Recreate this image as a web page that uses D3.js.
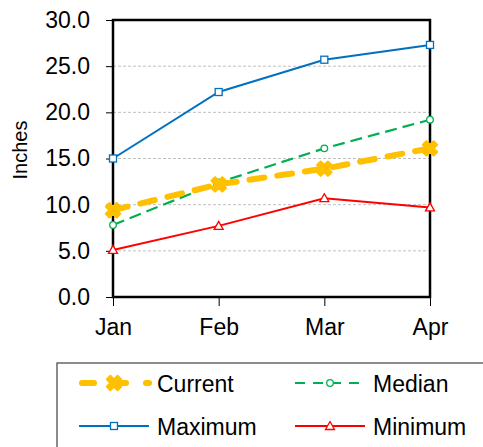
<html>
<head>
<style>
  body { margin: 0; background: #fff; }
  text { font-family: Arial, "Liberation Sans", sans-serif; fill: #000; }
</style>
</head>
<body>
<svg width="483" height="447"></svg>
<script src="https://d3js.org/d3.v7.min.js"></script>
<script>
var months = ['Jan', 'Feb', 'Mar', 'Apr'];
var yTicks = [0, 5, 10, 15, 20, 25, 30];
var current = [9.4, 12.2, 13.9, 16.1];
var median = [7.8, 12.4, 16.1, 19.2];
var maximum = [15.0, 22.2, 25.7, 27.3];
var minimum = [5.1, 7.7, 10.7, 9.7];

var svg = d3.select('svg');
var plotLeft = 113, plotRight = 430, plotTop = 20, plotBottom = 297;

var x = d3.scalePoint().domain(months).range([plotLeft, plotRight]);
var y = d3.scaleLinear().domain([0, 30]).range([plotBottom, plotTop]);

// gridlines
svg.selectAll('.grid')
  .data(yTicks.filter(function(d){ return d > 0 && d < 30; }))
  .enter().append('line')
  .attr('x1', plotLeft).attr('x2', plotRight)
  .attr('y1', function(d){ return y(d); })
  .attr('y2', function(d){ return y(d); })
  .attr('stroke', '#c0c0c0').attr('stroke-width', 1)
  .attr('stroke-dasharray', '3,2');

// y axis
var yAxis = svg.append('g')
  .attr('transform', 'translate(' + plotLeft + ',0)')
  .call(d3.axisLeft(y).tickValues(yTicks).tickFormat(d3.format('.1f')).tickSize(7).tickPadding(16));
yAxis.select('.domain').remove();
yAxis.selectAll('line').attr('stroke', '#000').attr('stroke-width', 1);
yAxis.selectAll('text').attr('font-size', '23px').attr('font-family', 'Arial, "Liberation Sans", sans-serif').attr('fill', '#000');

// x axis
var xAxis = svg.append('g')
  .attr('transform', 'translate(0,' + plotBottom + ')')
  .call(d3.axisBottom(x).tickSize(9).tickPadding(13));
xAxis.select('.domain').remove();
xAxis.selectAll('line').attr('stroke', '#000').attr('stroke-width', 1);
xAxis.selectAll('text').attr('font-size', '23px').attr('font-family', 'Arial, "Liberation Sans", sans-serif').attr('fill', '#000');

// frame
svg.append('rect')
  .attr('x', plotLeft).attr('y', plotTop)
  .attr('width', plotRight - plotLeft).attr('height', plotBottom - plotTop)
  .attr('fill', 'none').attr('stroke', '#000').attr('stroke-width', 2.5);

svg.append('text')
  .text('Inches')
  .attr('font-size', '20px')
  .attr('text-anchor', 'middle')
  .attr('transform', 'translate(27,150) rotate(-90)');

var line = d3.line()
  .x(function(d, i){ return x(months[i]); })
  .y(function(d){ return y(d); });

var series = [
  {name: 'Maximum', values: maximum, color: '#0070C0', width: 2, dash: null, marker: 'square'},
  {name: 'Minimum', values: minimum, color: '#FF0000', width: 2, dash: null, marker: 'triangle'},
  {name: 'Median', values: median, color: '#00B050', width: 2.2, dash: '12,6', marker: 'circle'},
  {name: 'Current', values: current, color: '#FFC000', width: 6, dash: '15,13', marker: 'cross'}
];

function drawMarker(g, kind, cx, cy, color) {
  if (kind === 'square') {
    g.append('rect').attr('x', cx - 3.5).attr('y', cy - 3.5).attr('width', 7).attr('height', 7)
      .attr('fill', '#fff').attr('stroke', color).attr('stroke-width', 1.3);
  } else if (kind === 'triangle') {
    g.append('path').attr('d', 'M' + cx + ',' + (cy - 4.5) + 'L' + (cx + 4.5) + ',' + (cy + 3.5) + 'L' + (cx - 4.5) + ',' + (cy + 3.5) + 'Z')
      .attr('fill', '#fff').attr('stroke', color).attr('stroke-width', 1.3);
  } else if (kind === 'circle') {
    g.append('circle').attr('cx', cx).attr('cy', cy).attr('r', 3.3)
      .attr('fill', '#fff').attr('stroke', color).attr('stroke-width', 1.3);
  } else {
    g.append('path').attr('d', d3.symbol().type(d3.symbolCross).size(130)())
      .attr('transform', 'translate(' + cx + ',' + cy + ') rotate(45)')
      .attr('fill', color).attr('stroke', color).attr('stroke-width', 2)
      .attr('stroke-linejoin', 'round');
  }
}

series.forEach(function(s) {
  var g = svg.append('g');
  g.append('path')
    .datum(s.values)
    .attr('d', line)
    .attr('fill', 'none')
    .attr('stroke', s.color)
    .attr('stroke-width', s.width)
    .attr('stroke-linecap', s.name === 'Current' ? 'round' : 'butt')
    .attr('stroke-dasharray', s.dash);
  s.values.forEach(function(v, i) {
    drawMarker(g, s.marker, x(months[i]), y(v), s.color);
  });
});

// legend
svg.append('rect')
  .attr('x', 57).attr('y', 363).attr('width', 440).attr('height', 100)
  .attr('fill', 'none').attr('stroke', '#404040').attr('stroke-width', 1.2);

var legendOrder = ['Current', 'Median', 'Maximum', 'Minimum'];
legendOrder.forEach(function(name, i) {
  var s = series.filter(function(d){ return d.name === name; })[0];
  var lx = 79 + (i % 2) * 216;
  var ly = 383 + Math.floor(i / 2) * 43;
  var g = svg.append('g');
  g.append('line')
    .attr('x1', lx + (name === 'Current' ? 3 : 0)).attr('x2', lx + 70).attr('y1', ly).attr('y2', ly)
    .attr('stroke', s.color).attr('stroke-width', s.width)
    .attr('stroke-linecap', name === 'Current' ? 'round' : 'butt')
    .attr('stroke-dasharray', name === 'Current' ? '12,20' : (s.dash ? '10,8' : null));
  drawMarker(g, s.marker, lx + 35, ly, s.color);
  g.append('text').text(name)
    .attr('x', lx + 78).attr('y', ly + 8.5)
    .attr('font-size', '23px');
});
</script>
</body>
</html>
